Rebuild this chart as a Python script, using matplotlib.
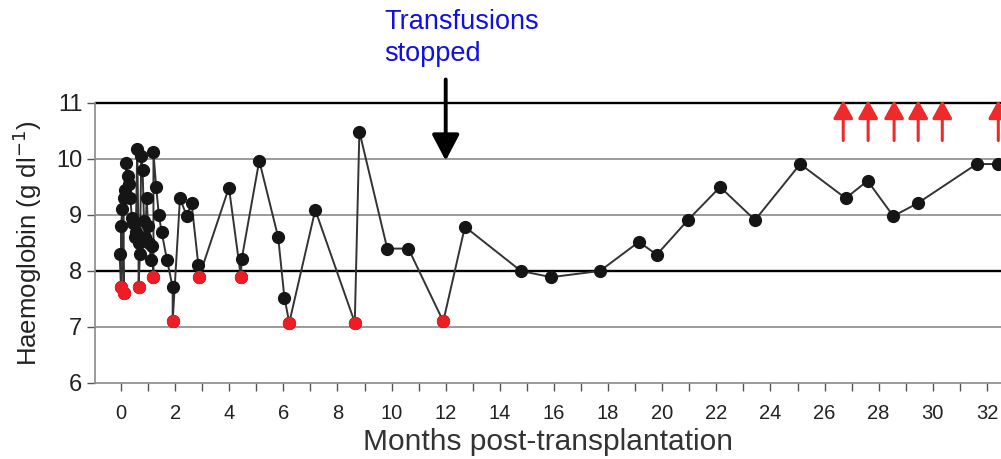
import numpy as np
import matplotlib
matplotlib.use('Agg')
import matplotlib.pyplot as plt
from matplotlib.patches import FancyArrowPatch

plt.rcParams['font.family'] = ['Liberation Sans', 'DejaVu Sans']

# haemoglobin course, time ordered (months, g/dl)
months = [-0.05, 0.0, 0.0, 0.05, 0.1, 0.1, 0.15, 0.2, 0.25, 0.3, 0.35, 0.4, 0.45, 0.5, 0.55,
          0.6, 0.65, 0.65, 0.7, 0.75, 0.8, 0.85, 0.9, 0.95, 1.0, 1.05, 1.1, 1.15, 1.2, 1.2,
          1.3, 1.4, 1.5, 1.7, 1.91, 1.91, 2.18, 2.43, 2.61, 2.86, 2.89, 3.99, 4.43, 4.46,
          5.11, 5.81, 6.04, 6.22, 7.18, 8.64, 8.81, 9.84, 10.62, 11.91, 12.71, 14.78,
          15.9, 17.7, 19.14, 19.8, 20.95, 22.14, 23.43, 25.1, 26.78, 27.59, 28.54, 29.44,
          31.62, 32.42, 33.2]
hb = [8.3, 7.72, 8.8, 9.1, 7.6, 9.3, 9.45, 9.92, 9.7, 9.55, 9.3, 8.95, 8.85, 8.6, 8.7,
      10.18, 8.5, 7.72, 8.3, 10.05, 9.8, 8.9, 8.6, 9.3, 8.8, 8.5, 8.2, 8.45, 7.9, 10.12,
      9.5, 9.0, 8.7, 8.2, 7.71, 7.1, 9.3, 8.98, 9.21, 8.1, 7.9, 9.49, 7.9, 8.21,
      9.97, 8.6, 7.52, 7.08, 9.09, 7.08, 10.49, 8.4, 8.4, 7.1, 8.79, 8.0,
      7.89, 8.0, 8.52, 8.29, 8.91, 9.5, 8.91, 9.91, 9.3, 9.61, 8.98, 9.21,
      9.91, 9.91, 9.91]

# transfusion points (red)
tx_months = [0.0, 0.1, 0.65, 1.2, 1.91, 2.89, 4.43, 6.22, 8.64, 11.91]
tx_hb = [7.72, 7.6, 7.72, 7.9, 7.1, 7.9, 7.9, 7.08, 7.08, 7.1]

# red arrows at top
up_months = [26.69, 27.61, 28.57, 29.46, 30.35, 32.42]

yticks = [6, 7, 8, 9, 10, 11]
xticks = list(range(0, 33, 2))

fig = plt.figure(figsize=(10.01, 4.59), dpi=100)
ax = fig.add_axes([0.0949, 0.1656, 0.9051, 0.671])
ax.set_xlim(-0.96, 32.52)
ax.set_ylim(6, 11.5)

# reference lines
for y in [7, 9, 10]:
    ax.axhline(y, color='#8a8a8a', lw=1.2, zorder=1)
for y in [8, 11]:
    ax.axhline(y, color='black', lw=1.7, zorder=1)

ax.plot(months, hb, color='#333333', lw=1.4, marker='o', ms=8.5,
        mfc='#151515', mec='#151515', zorder=3)
ax.plot(tx_months, tx_hb, ls='none', marker='o', ms=8.5,
        mfc='#ee1c25', mec='#ee1c25', zorder=4)

for m in up_months:
    ax.add_patch(FancyArrowPatch((m, 10.28), (m, 11.1), arrowstyle='-|>,head_length=0.55,head_width=0.3',
                                 mutation_scale=20, lw=2.2, color='#ee2a2a', clip_on=False, zorder=5))

ax.add_patch(FancyArrowPatch((12, 11.47), (12, 9.92), arrowstyle='-|>,head_length=0.8,head_width=0.42',
                             mutation_scale=20, lw=2.8, color='black', clip_on=False, zorder=5))
ax.text(9.72, 12.68, 'Transfusions\nstopped', color='#1010e0', fontsize=19.5, ha='left',
        va='top', linespacing=1.3)

for s in ['top', 'right']:
    ax.spines[s].set_visible(False)
ax.spines['left'].set_bounds(6, 11)
ax.spines['left'].set_color('#8a8a8a')
ax.spines['bottom'].set_color('#8a8a8a')
ax.spines['left'].set_linewidth(1.2)
ax.spines['bottom'].set_linewidth(1.2)

ax.set_yticks(yticks)
ax.set_yticklabels([str(v) for v in yticks], fontsize=17, color='#222222')
ax.set_xticks(xticks)
ax.set_xticklabels([str(v) for v in xticks], fontsize=14.5, color='#222222')
ax.set_xticks(range(0, 33, 1), minor=True)
ax.tick_params(axis='both', which='both', direction='out', length=6, width=1, color='#555555')
ax.tick_params(axis='x', which='major', pad=9)
ax.tick_params(axis='y', which='major', pad=3)

ax.set_xlabel('Months post-transplantation', fontsize=21.5, color='#333333', labelpad=4)
ax.set_ylabel('Haemoglobin (g dl$^{-1}$)', fontsize=18.5, color='#222222')
ax.yaxis.set_label_coords(-0.056, 0.455)

fig.savefig('out.png', dpi=100)
